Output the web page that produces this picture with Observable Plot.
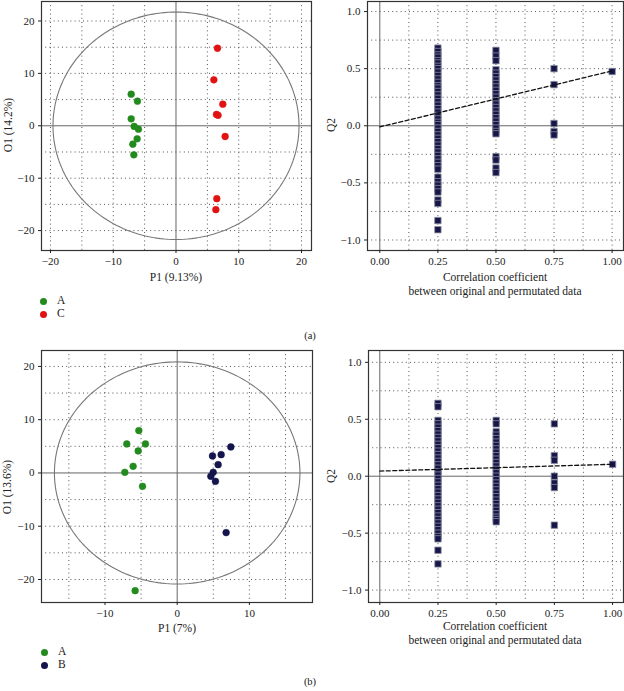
<!DOCTYPE html>
<html>
<head>
<meta charset="utf-8">
<script src="https://cdn.jsdelivr.net/npm/d3@7"></script>
<script src="https://cdn.jsdelivr.net/npm/@observablehq/plot@0.6"></script>
<style>
  html, body { margin: 0; padding: 0; background: #fff; }
  #wrap { position: relative; width: 624px; height: 691px; overflow: hidden; font-family: "Liberation Serif", "DejaVu Serif", serif; color: #222; }
  .panel { position: absolute; }
  .lbl { position: absolute; font-size: 11.5px; white-space: nowrap; line-height: 14px; }
  .small { font-size: 10.5px; }
  .rot { transform: translate(-50%, -50%) rotate(-90deg); }
  .ctr { transform: translate(-50%, -50%); text-align: center; }
  .leg { position: absolute; font-size: 11.5px; line-height: 13px; }
  .leg span.dot { display: inline-block; width: 7px; height: 7px; border-radius: 50%; vertical-align: middle; margin-right: 10px; }
</style>
</head>
<body>
<div id="wrap"></div>
<script>
// ---------- Data ----------
const colorA = "#238a1e";
const colorC = "#e01212";
const colorB = "#15154d";

// Panel (a) score plot: group A
const aA_x = [-7.14, -6.14, -7.14, -6.66, -5.98, -6.19, -6.88, -6.72];
const aA_y = [6.03, 4.7, 1.33, -0.13, -0.65, -2.48, -3.5, -5.54];
// Panel (a) score plot: group C
const aC_x = [6.61, 6.03, 7.46, 6.45, 6.7, 7.83, 6.5, 6.35];
const aC_y = [14.8, 8.77, 4.13, 2.16, 2.0, -2.04, -13.9, -16.0];
const aEllipse = {rx: 19.6, ry: 21.7};

// Panel (a) permutation test Q2 values by correlation coefficient
const aQ2_025 = [0.68, 0.65, 0.62, 0.6, 0.57, 0.55, 0.52, 0.5, 0.47, 0.44, 0.41, 0.38, 0.35, 0.33, 0.3, 0.27, 0.24, 0.21, 0.18, 0.15, 0.12, 0.09, 0.06, 0.03, 0.01, -0.02, -0.05, -0.08, -0.11, -0.14, -0.17, -0.2, -0.23, -0.26, -0.29, -0.32, -0.35, -0.38, -0.45, -0.49, -0.52, -0.55, -0.58, -0.65, -0.68, -0.83, -0.91];
const aQ2_050 = [0.66, 0.61, 0.57, 0.49, 0.46, 0.43, 0.4, 0.37, 0.34, 0.31, 0.28, 0.25, 0.22, 0.19, 0.16, 0.13, 0.1, 0.07, 0.04, 0.01, -0.02, -0.05, -0.07, -0.27, -0.3, -0.37, -0.41];
const aQ2_075 = [0.5, 0.36, 0.02, -0.05, -0.08];
const aQ2_100 = [0.475];
const aReg = {x: [0, 1], y: [-0.01, 0.48]};

// Panel (b) score plot: group A
const bA_x = [-5.31, -6.98, -4.39, -5.4, -6.1, -7.25, -4.8, -5.82];
const bA_y = [7.95, 5.45, 5.45, 4.13, 1.25, 0.12, -2.51, -22.1];
// Panel (b) score plot: group B
const bB_x = [7.43, 6.09, 4.89, 5.67, 4.99, 4.66, 5.3, 6.78];
const bB_y = [4.89, 3.44, 3.19, 1.56, 0.12, -0.63, -1.57, -11.2];
const bEllipse = {rx: 17.0, ry: 20.85};

// Panel (b) permutation test
const bQ2_025 = [0.64, 0.61, 0.49, 0.46, 0.43, 0.4, 0.37, 0.34, 0.31, 0.28, 0.25, 0.22, 0.19, 0.16, 0.13, 0.1, 0.07, 0.04, 0.01, -0.02, -0.05, -0.08, -0.11, -0.14, -0.17, -0.2, -0.23, -0.26, -0.29, -0.32, -0.35, -0.38, -0.41, -0.44, -0.47, -0.5, -0.53, -0.55, -0.65, -0.77];
const bQ2_050 = [0.49, 0.46, 0.39, 0.36, 0.33, 0.3, 0.27, 0.24, 0.21, 0.18, 0.15, 0.12, 0.09, 0.06, 0.03, 0.0, -0.03, -0.06, -0.09, -0.12, -0.15, -0.18, -0.21, -0.24, -0.27, -0.3, -0.33, -0.36, -0.38, -0.4];
const bQ2_075 = [0.46, 0.18, 0.14, 0.0, -0.06, -0.1, -0.43];
const bQ2_100 = [0.105];
const bReg = {x: [0, 1], y: [0.045, 0.105]};

// Tick values
const scoreTicks = [-20, -10, 0, 10, 20];
const scoreGrid = [-20, -15, -10, -5, 5, 10, 15, 20];
const permXTicks = [0, 0.25, 0.5, 0.75, 1];
const permXGrid = [0.125, 0.25, 0.375, 0.5, 0.625, 0.75, 0.875, 1];
const permYTicks = [-1, -0.5, 0, 0.5, 1];
const permYGrid = [-1, -0.75, -0.5, -0.25, 0.25, 0.5, 0.75, 1];

// ---------- Helpers ----------
const wrap = document.getElementById("wrap");
const FONT = "Liberation Serif, DejaVu Serif, serif";
const dotted = {stroke: "#555", strokeWidth: 1, strokeDasharray: "1,3.2"};

function place(el, left, top) {
  el.classList.add("panel");
  el.style.left = left + "px";
  el.style.top = top + "px";
  wrap.appendChild(el);
}
function label(text, x, y, cls) {
  const d = document.createElement("div");
  d.className = "lbl " + cls;
  d.style.left = x + "px";
  d.style.top = y + "px";
  d.innerHTML = text;
  wrap.appendChild(d);
}
function legend(items, x, y) {
  const d = document.createElement("div");
  d.className = "leg";
  d.style.left = x + "px";
  d.style.top = y + "px";
  d.innerHTML = items.map(([c, t]) => `<div><span class="dot" style="background:${c}"></span>${t}</div>`).join("");
  wrap.appendChild(d);
}
function pts(xs, ys, group) { return xs.map((x, i) => ({x, y: ys[i], group})); }
function ellipsePts(e) {
  const n = 200;
  return d3.range(n + 1).map(i => {
    const t = (i / n) * 2 * Math.PI;
    return {x: e.rx * Math.cos(t), y: e.ry * Math.sin(t)};
  });
}

function scorePlot({width, height, margins, xDomain, yDomain, xTicks, ellipse, data, colors}) {
  return Plot.plot({
    width, height, ...margins,
    style: {fontFamily: FONT, fontSize: "11px", color: "#222", background: "transparent"},
    x: {domain: xDomain},
    y: {domain: yDomain},
    marks: [
      Plot.ruleX(scoreGrid.filter(v => v > xDomain[0] && v < xDomain[1]), dotted),
      Plot.ruleY(scoreGrid.filter(v => v > yDomain[0] && v < yDomain[1]), dotted),
      Plot.ruleX([0], {stroke: "#666", strokeWidth: 1}),
      Plot.ruleY([0], {stroke: "#666", strokeWidth: 1}),
      Plot.line(ellipsePts(ellipse), {x: "x", y: "y", stroke: "#777", strokeWidth: 1.1, curve: "linear"}),
      Plot.dot(data, {x: "x", y: "y", r: 3.4, fill: d => colors[d.group], stroke: d => colors[d.group], strokeWidth: 0.5}),
      Plot.frame({stroke: "#333", strokeWidth: 1.2}),
      Plot.axisX(xTicks, {tickSize: 3, tickPadding: 4, label: null, fontSize: 11}),
      Plot.axisY(scoreTicks, {tickSize: 3, tickPadding: 4, label: null, fontSize: 11})
    ]
  });
}

function permPlot({width, height, margins, xDomain, yDomain, cols, reg}) {
  const data = [];
  cols.forEach(([x, arr]) => arr.forEach(y => data.push({x, y})));
  return Plot.plot({
    width, height, ...margins,
    style: {fontFamily: FONT, fontSize: "11px", color: "#222", background: "transparent"},
    x: {domain: xDomain},
    y: {domain: yDomain},
    marks: [
      Plot.ruleX(permXGrid, dotted),
      Plot.ruleY(permYGrid, dotted),
      Plot.ruleX([0], {stroke: "#666", strokeWidth: 1}),
      Plot.ruleY([0], {stroke: "#666", strokeWidth: 1}),
      Plot.dot(data, {x: "x", y: "y", symbol: "square", r: 3.6, fill: "#16164a", stroke: "#8a8a9a", strokeWidth: 0.8}),
      Plot.line(reg.x.map((x, i) => ({x, y: reg.y[i]})), {x: "x", y: "y", stroke: "#111", strokeWidth: 1.3, strokeDasharray: "4,2.5"}),
      Plot.frame({stroke: "#333", strokeWidth: 1.2}),
      Plot.axisX(permXTicks, {tickSize: 3, tickPadding: 4, label: null, tickFormat: d3.format(".2f"), fontSize: 11}),
      Plot.axisY(permYTicks, {tickSize: 3, tickPadding: 4, label: null, tickFormat: d3.format(".1f"), fontSize: 11})
    ]
  });
}

// ---------- Panel (a) ----------
place(scorePlot({
  width: 320, height: 280,
  margins: {marginLeft: 41, marginRight: 9, marginTop: 1, marginBottom: 30},
  xDomain: [-21.43, 21.59], yDomain: [-23.8, 23.72], xTicks: scoreTicks,
  ellipse: aEllipse,
  data: [...pts(aA_x, aA_y, "A"), ...pts(aC_x, aC_y, "C")],
  colors: {A: colorA, C: colorC}
}), 0, 0);

place(permPlot({
  width: 314, height: 280,
  margins: {marginLeft: 57, marginRight: 1, marginTop: 1, marginBottom: 30},
  xDomain: [-0.053, 1.049], yDomain: [-1.092, 1.088],
  cols: [[0.25, aQ2_025], [0.5, aQ2_050], [0.75, aQ2_075], [1, aQ2_100]],
  reg: aReg
}), 310, 0);

label("O1 (14.2%)", 8, 125, "rot");
label("P1 (9.13%)", 176, 277, "ctr");
label("Q2", 331, 125, "rot");
label("Correlation coefficient<br>between original and permutated data", 495, 284, "ctr");
legend([[colorA, "A"], [colorC, "C"]], 40, 294);
label("(a)", 310, 336, "ctr small");

// ---------- Panel (b) ----------
place(scorePlot({
  width: 320, height: 300,
  margins: {marginLeft: 41, marginRight: 8, marginTop: 20, marginBottom: 28},
  xDomain: [-18.79, 18.74], yDomain: [-24.32, 22.99], xTicks: [-10, 0, 10],
  ellipse: bEllipse,
  data: [...pts(bA_x, bA_y, "A"), ...pts(bB_x, bB_y, "B")],
  colors: {A: colorA, B: colorB}
}), 0, 330);

place(permPlot({
  width: 314, height: 300,
  margins: {marginLeft: 58, marginRight: 1, marginTop: 20, marginBottom: 28},
  xDomain: [-0.0485, 1.047], yDomain: [-1.109, 1.104],
  cols: [[0.25, bQ2_025], [0.5, bQ2_050], [0.75, bQ2_075], [1, bQ2_100]],
  reg: bReg
}), 310, 330);

label("O1 (13.6%)", 7, 487, "rot");
label("P1 (7%)", 177, 628, "ctr");
label("Q2", 331, 476, "rot");
label("Correlation coefficient<br>between original and permutated data", 495, 633, "ctr");
legend([[colorA, "A"], [colorB, "B"]], 41, 645);
label("(b)", 310, 682, "ctr small");
</script>
</body>
</html>
